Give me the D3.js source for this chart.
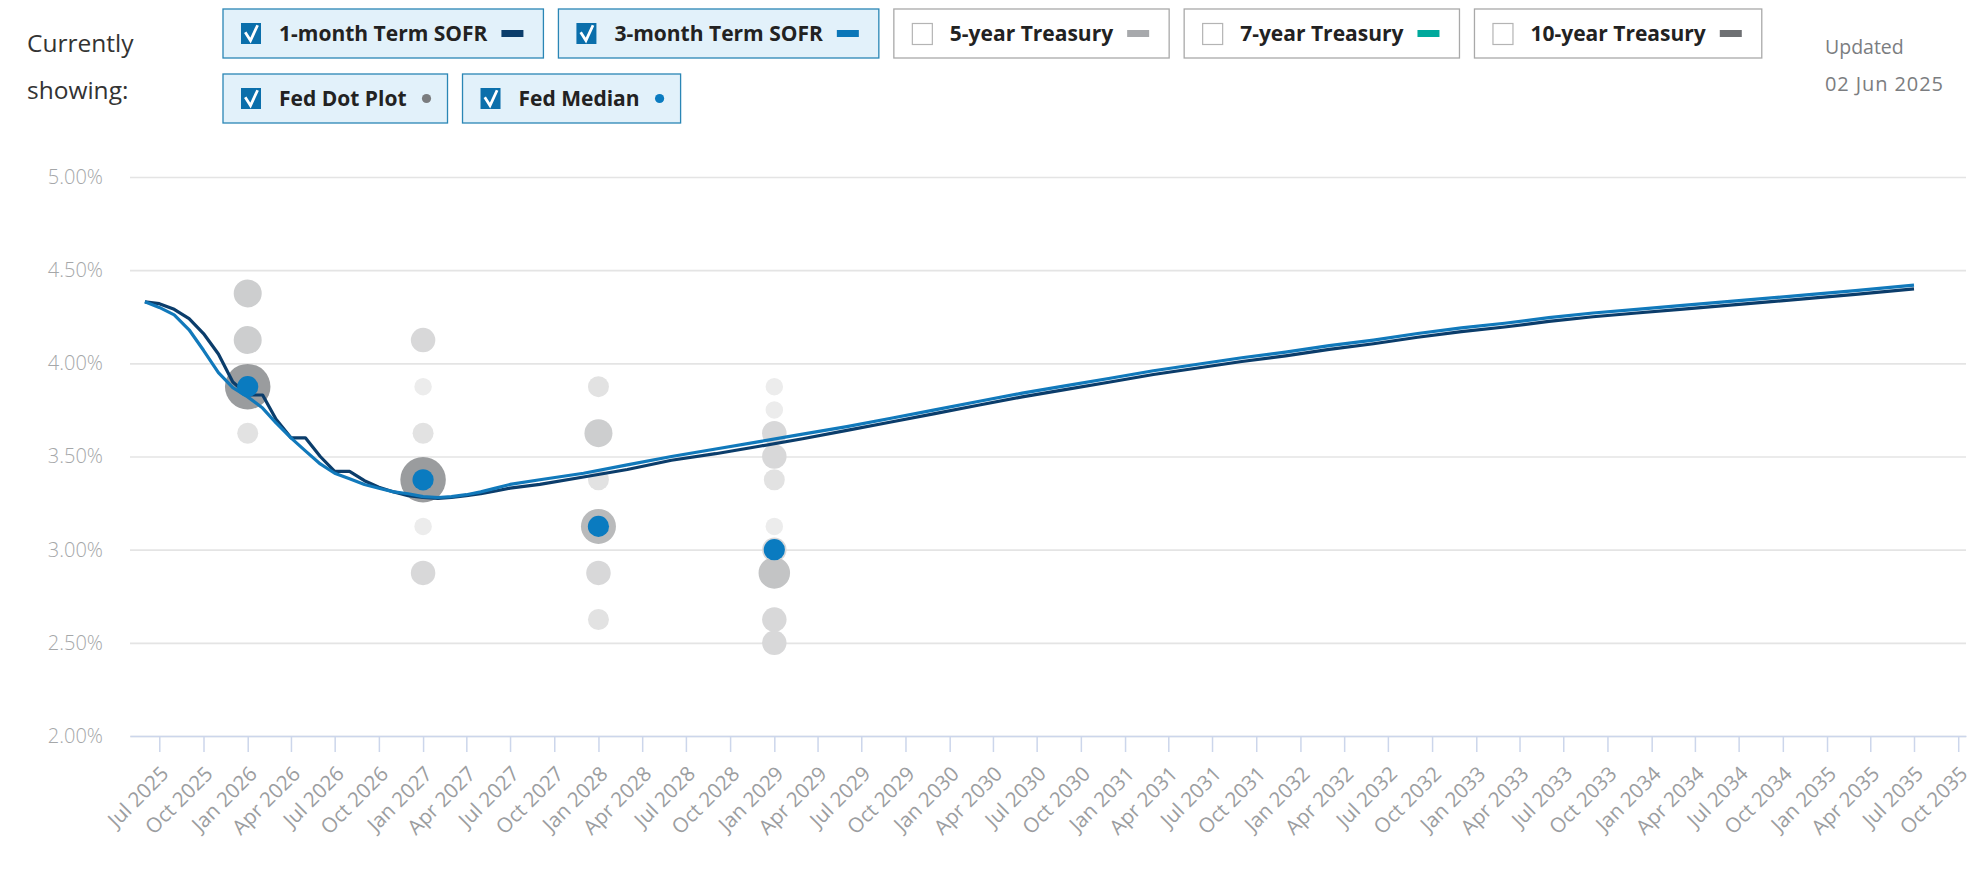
<!DOCTYPE html>
<html>
<head>
<meta charset="utf-8">
<script src="https://cdn.jsdelivr.net/npm/d3@7"></script>
<style>
  body { margin: 0; background: #fff; font-family: "Open Sans", sans-serif; }
  svg text { font-family: "Open Sans", sans-serif; }
</style>
</head>
<body>
<div id="chart"></div>
<script>
// ---- forward curve: Term SOFR (%), monthly then quarterly ----
var sofrMonths = ["2025-06","2025-07","2025-08","2025-09","2025-10","2025-11","2025-12",
  "2026-01","2026-02","2026-03","2026-04","2026-05","2026-06","2026-07","2026-08","2026-09",
  "2026-10","2026-11","2026-12","2027-01","2027-02","2027-03","2027-04","2027-05","2027-06",
  "2027-07","2027-09","2027-12","2028-03","2028-06","2028-09","2028-12","2029-03","2029-06",
  "2029-09","2029-12","2030-03","2030-06","2030-09","2030-12","2031-03","2031-06","2031-09",
  "2031-12","2032-03","2032-06","2032-09","2032-12","2033-03","2033-06","2033-09","2033-12",
  "2034-03","2034-06","2034-09","2034-12","2035-03","2035-07"];
var sofr1m = [4.33,4.32,4.29,4.24,4.16,4.05,3.90,
  3.83,3.83,3.70,3.60,3.60,3.50,3.42,3.42,3.37,
  3.335,3.31,3.29,3.28,3.275,3.28,3.29,3.30,3.315,
  3.33,3.35,3.39,3.43,3.48,3.515,3.555,3.595,3.64,
  3.685,3.73,3.775,3.82,3.86,3.90,3.94,3.975,4.01,
  4.04,4.075,4.105,4.14,4.17,4.195,4.225,4.25,4.27,
  4.29,4.31,4.33,4.35,4.37,4.40];
var sofr3m = [4.33,4.30,4.26,4.18,4.07,3.95,3.87,
  3.82,3.76,3.68,3.60,3.53,3.46,3.41,3.38,3.35,
  3.33,3.31,3.30,3.285,3.28,3.285,3.295,3.31,3.33,
  3.35,3.375,3.41,3.455,3.50,3.54,3.58,3.62,3.66,
  3.705,3.75,3.795,3.84,3.88,3.92,3.96,3.995,4.03,
  4.06,4.095,4.125,4.16,4.19,4.215,4.245,4.27,4.29,
  4.31,4.33,4.35,4.37,4.39,4.42];

// ---- Fed dot plot: column date, rate, number of participants ----
var dotDates = ["2026-01","2026-01","2026-01","2026-01",
  "2027-01","2027-01","2027-01","2027-01","2027-01","2027-01",
  "2028-01","2028-01","2028-01","2028-01","2028-01","2028-01",
  "2029-01","2029-01","2029-01","2029-01","2029-01","2029-01","2029-01","2029-01","2029-01","2029-01"];
var dotRates = [4.375,4.125,3.875,3.625,
  4.125,3.875,3.625,3.375,3.125,2.875,
  3.875,3.625,3.375,3.125,2.875,2.625,
  3.875,3.75,3.625,3.5,3.375,3.125,3.0,2.875,2.625,2.5];
var dotCounts = [4,4,9,2,
  3,1,2,9,1,3,
  2,4,2,6,3,2,
  1,1,3,3,2,1,3,5,3,3];

var medianDates = ["2026-01","2027-01","2028-01","2029-01"];
var medianRates = [3.875,3.375,3.125,3.0];

var yTicks = [2.0,2.5,3.0,3.5,4.0,4.5,5.0];

var legendLabels = ["1-month Term SOFR","3-month Term SOFR","5-year Treasury","7-year Treasury",
  "10-year Treasury","Fed Dot Plot","Fed Median"];
var legendChecked = [true,true,false,false,false,true,true];
var legendKind = ["line","line","line","line","line","dot","dot"];
var legendRow = [0,0,0,0,0,1,1];

var updatedLabel = "Updated";
var updatedDate = "02 Jun 2025";

// ---- styles ----
var legendColor = ["#0b3d6b","#0a76b8","#a7a9ac","#00a99c","#6e7073","#7a7c7e","#0a7bc0"];
var c1m = "#0b3d6b", c3m = "#1179bb", cMedian = "#0a7bc0";

var W = 1976, H = 876;
var plotL = 130, plotR = 1966, plotT = 177, plotB = 736;

var parse = d3.timeParse("%Y-%m");

var svg = d3.select("#chart").append("svg")
  .attr("width", W).attr("height", H);

// x: Jul 2025 sits at 159, Jul 2035 at 1914
var x = d3.scaleTime()
  .domain([parse("2025-07"), parse("2035-07")])
  .range([159.3, 1914]);
x.domain([x.invert(plotL), x.invert(plotR)]).range([plotL, plotR]);

var y = d3.scaleLinear().domain([2, 5]).range([plotB, plotT]);

var rScale = d3.scaleLinear().domain([1, 9]).range([8.75, 22.75]);
var fillScale = d3.scaleLinear().domain([1, 9]).range(["#ececec", "#9a9c9e"]);

// grid + y labels
var yAxis = svg.append("g")
  .attr("transform", "translate(" + plotL + ",0)")
  .call(d3.axisLeft(y).tickValues(yTicks)
    .tickSize(-(plotR - plotL)).tickPadding(27)
    .tickFormat(function(d) { return d.toFixed(2) + "%"; }));
yAxis.select(".domain").remove();
yAxis.selectAll("line").attr("stroke", "#e4e4e4").attr("stroke-width", 1.6);
yAxis.selectAll("text").attr("fill", "#a5a7a9").style("font-size", "20px")
  .style("font-weight", 300);

// dot plot
var dots = dotDates.map(function(d, i) {
  return {date: parse(d), rate: dotRates[i], n: dotCounts[i]};
});
svg.append("g").selectAll("circle")
  .data(dots)
  .enter()
  .append("circle")
  .attr("cx", function(d) { return x(d.date); })
  .attr("cy", function(d) { return y(d.rate); })
  .attr("r", function(d) { return rScale(d.n); })
  .attr("fill", function(d) { return fillScale(d.n); });

// SOFR lines
var line = d3.line()
  .x(function(d) { return x(d.date); })
  .y(function(d) { return y(d.v); });

var s1 = sofrMonths.map(function(m, i) { return {date: parse(m), v: sofr1m[i]}; });
var s3 = sofrMonths.map(function(m, i) { return {date: parse(m), v: sofr3m[i]}; });

svg.append("path").datum(s1)
  .attr("d", line).attr("fill", "none")
  .attr("stroke", c1m).attr("stroke-width", 3.2).attr("stroke-linejoin", "round");
svg.append("path").datum(s3)
  .attr("d", line).attr("fill", "none")
  .attr("stroke", c3m).attr("stroke-width", 3.2).attr("stroke-linejoin", "round");

// Fed median
svg.append("g").selectAll("circle")
  .data(medianDates.map(function(d, i) { return {date: parse(d), rate: medianRates[i]}; }))
  .enter()
  .append("circle")
  .attr("cx", function(d) { return x(d.date); })
  .attr("cy", function(d) { return y(d.rate); })
  .attr("r", 10.6)
  .attr("fill", cMedian);

// x axis
var xAxis = svg.append("g")
  .attr("transform", "translate(0," + plotB + ")")
  .call(d3.axisBottom(x).ticks(d3.timeMonth.every(3))
    .tickFormat(d3.timeFormat("%b %Y"))
    .tickSize(16).tickSizeOuter(0));
xAxis.select(".domain").attr("stroke", "#ccd6eb").attr("stroke-width", 1.5);
xAxis.selectAll(".tick line").attr("stroke", "#ccd6eb").attr("stroke-width", 1.5);
xAxis.selectAll(".tick text")
  .attr("fill", "#9b9da0")
  .style("font-size", "20.5px")
  .attr("text-anchor", "end")
  .attr("y", 0).attr("dy", "0.35em")
  .attr("transform", "translate(5,34) rotate(-45)");

// header: "Currently showing:"
svg.append("text").attr("x", 27).attr("y", 43).attr("dy", "0.35em")
  .attr("fill", "#333").style("font-size", "24.5px").text("Currently");
svg.append("text").attr("x", 27).attr("y", 90).attr("dy", "0.35em")
  .attr("fill", "#333").style("font-size", "24.5px").text("showing:");

// legend boxes
var rowY = [9, 74];
var rowX = [223, 223];
var boxH = 49;
legendLabels.forEach(function(label, i) {
  var r = legendRow[i];
  var g = svg.append("g").attr("transform", "translate(" + rowX[r] + "," + rowY[r] + ")");
  var rect = g.append("rect").attr("y", 0).attr("height", boxH)
    .attr("fill", legendChecked[i] ? "#e2f1fa" : "#fff")
    .attr("stroke", legendChecked[i] ? "#2a86b5" : "#a9a9a9")
    .attr("stroke-width", 1.3);
  if (legendChecked[i]) {
    g.append("rect").attr("x", 18).attr("y", 14).attr("width", 20).attr("height", 21)
      .attr("fill", "#0b6fab");
    g.append("path").attr("d", "M23,24.5 L27.5,31.5 L34,17.5")
      .attr("fill", "none").attr("stroke", "#fff").attr("stroke-width", 2.8)
      .attr("stroke-linecap", "square");
  } else {
    g.append("rect").attr("x", 18.5).attr("y", 14.5).attr("width", 20).attr("height", 21)
      .attr("fill", "#fff").attr("stroke", "#b4b4b4").attr("stroke-width", 1.2);
  }
  var t = g.append("text").attr("x", 56).attr("y", boxH / 2).attr("dy", "0.35em")
    .attr("fill", "#222").style("font-size", "21px").style("font-weight", 700)
    .text(label);
  var tw = t.node().getComputedTextLength();
  var w;
  if (legendKind[i] === "line") {
    g.append("rect").attr("x", 56 + tw + 14).attr("y", boxH / 2 - 3.5)
      .attr("width", 22).attr("height", 7).attr("fill", legendColor[i]);
    w = 56 + tw + 14 + 22 + 20;
  } else {
    g.append("circle").attr("cx", 56 + tw + 20).attr("cy", boxH / 2)
      .attr("r", 4.6).attr("fill", legendColor[i]);
    w = 56 + tw + 20 + 21;
  }
  rect.attr("x", 0).attr("width", w);
  rowX[r] += w + 15;
});

// updated stamp
svg.append("text").attr("x", 1825).attr("y", 47).attr("dy", "0.35em")
  .attr("fill", "#7b7d80").style("font-size", "19.5px").text(updatedLabel);
svg.append("text").attr("x", 1825).attr("y", 84).attr("dy", "0.35em")
  .attr("fill", "#7b7d80").style("font-size", "20px").style("letter-spacing", "0.9px")
  .text(updatedDate);
</script>
</body>
</html>
